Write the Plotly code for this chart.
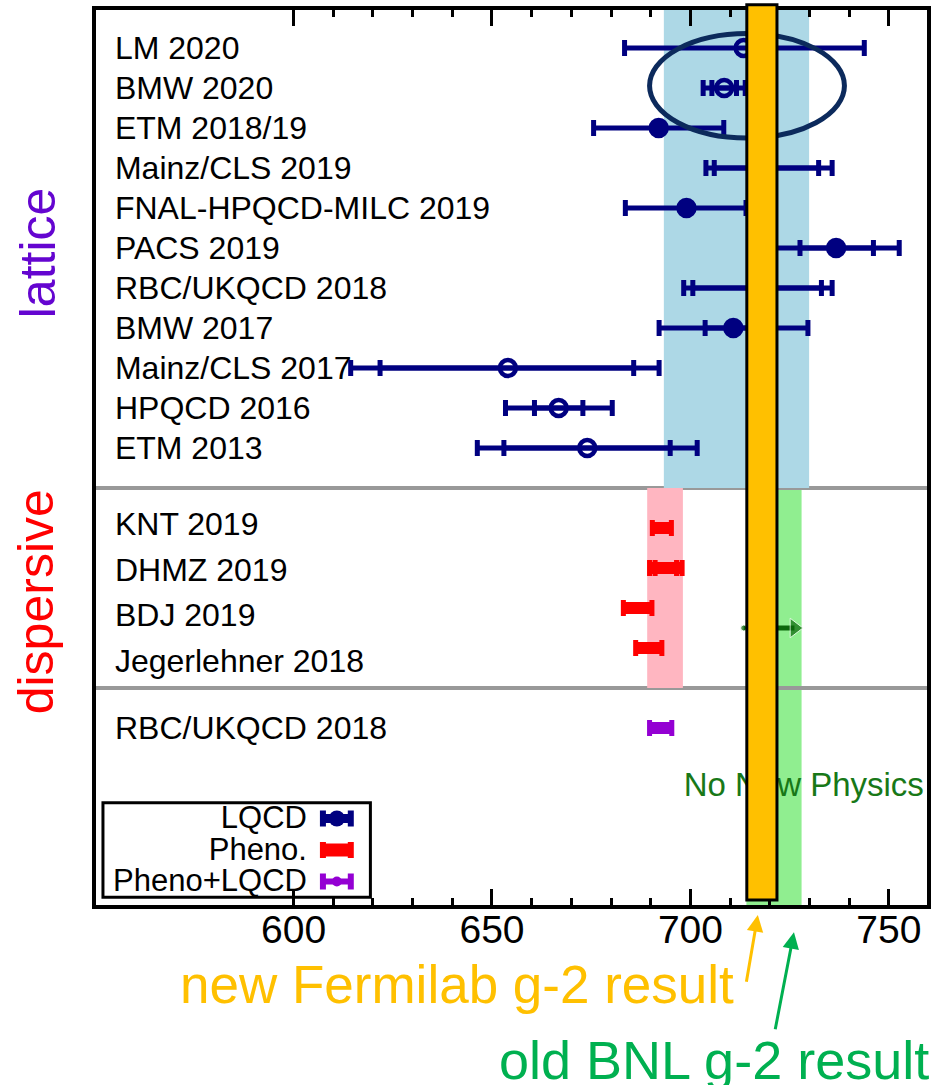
import plotly.graph_objects as go

FONT = "Liberation Sans, Arial, Helvetica, sans-serif"
NAVY = "#000080"
RED = "#FF0000"
PURPLE = "#9400D3"

# ---------------- data (HVP LO, units of 1e-10) ----------------
lat_names = ["LM 2020", "BMW 2020", "ETM 2018/19", "Mainz/CLS 2019",
             "FNAL-HPQCD-MILC 2019", "PACS 2019", "RBC/UKQCD 2018",
             "BMW 2017", "Mainz/CLS 2017", "HPQCD 2016", "ETM 2013"]
lat_value = [713.4, 708.5, 692.0, 719.6, 699.0, 736.7, 717.0, 710.8, 654.0, 666.8, 674.0]
lat_inner_minus = [None, 3.1, None, 13.6, None, 9.1, 16.4, 7.1, 32.2, 6.1, 21.0]
lat_inner_plus = [None, 3.1, None, 12.7, None, 9.4, 16.0, 7.5, 31.7, 6.1, 20.9]
lat_outer_minus = [30.0, 5.3, 16.4, 15.7, 15.4, 20.0, 18.7, 18.7, 39.6, 13.4, 27.7]
lat_outer_plus = [30.4, 5.3, 16.4, 16.1, 15.0, 15.9, 18.7, 18.8, 38.1, 13.5, 27.7]
lat_filled = [False, False, True, False, True, True, True, True, False, False, False]

disp_names = ["KNT 2019", "DHMZ 2019", "BDJ 2019", "Jegerlehner 2018"]
disp_value = [692.8, 693.8, 686.7, 689.5]
disp_err = [2.4, 4.1, 3.6, 3.3]
disp_inner = [None, 2.7, None, None]

mix_names = ["RBC/UKQCD 2018"]
mix_value = [692.5]
mix_err = [2.8]

lattice_avg, lattice_hw = 711.6, 18.3
pheno_avg, pheno_hw = 693.6, 4.5
bnl_value, bnl_err = 721.05, 6.95
fnal_value, fnal_err = 718.0, 3.8
bnl_arrow = [713.4, 726.2]

x_major = [600, 650, 700, 750]
x_minor = [610, 620, 630, 640, 660, 670, 680, 690, 710, 720, 730, 740]

legend_names = ["LQCD", "Pheno.", "Pheno+LQCD"]

# ---------------- row layout ----------------
n_lat = len(lat_names)
lat_rows = [i + 1 for i in range(n_lat)]
sep1 = n_lat + 1
disp_rows = [sep1 + 1 + i for i in range(len(disp_names))]
disp_label_rows = [sep1 + 0.9 + 1.14 * i for i in range(len(disp_names))]
sep2 = disp_rows[-1] + 1
mix_rows = [sep2 + 1 + i for i in range(len(mix_names))]
nonp_row = mix_rows[-1] + 1.5
arrow_row = (disp_rows[2] + disp_rows[3]) / 2
label_x = 555.0
label_shift = 0.075

fig = go.Figure()

# row labels
fig.add_trace(go.Scatter(
    x=[label_x] * (n_lat + len(disp_names) + len(mix_names)),
    y=[r + label_shift for r in lat_rows + disp_label_rows + mix_rows],
    mode="text", text=lat_names + disp_names + mix_names,
    textposition="middle right",
    textfont=dict(size=32, color="black", family=FONT),
    hoverinfo="skip", showlegend=False, cliponaxis=False))

# lattice: outer error bars
fig.add_trace(go.Scatter(
    x=lat_value, y=lat_rows, mode="markers",
    marker=dict(size=1, color="rgba(0,0,0,0)"),
    error_x=dict(type="data", symmetric=False, array=lat_outer_plus,
                 arrayminus=lat_outer_minus, color=NAVY, thickness=5, width=8),
    hoverinfo="skip", showlegend=False))
# lattice: inner error bars
idx = [i for i in range(n_lat) if lat_inner_plus[i] is not None]
fig.add_trace(go.Scatter(
    x=[lat_value[i] for i in idx], y=[lat_rows[i] for i in idx], mode="markers",
    marker=dict(size=1, color="rgba(0,0,0,0)"),
    error_x=dict(type="data", symmetric=False,
                 array=[lat_inner_plus[i] for i in idx],
                 arrayminus=[lat_inner_minus[i] for i in idx],
                 color=NAVY, thickness=5, width=8),
    hoverinfo="skip", showlegend=False))
# lattice markers
fig.add_trace(go.Scatter(
    x=lat_value, y=lat_rows, mode="markers",
    marker=dict(size=16, color=NAVY,
                symbol=["circle" if f else "circle-open" for f in lat_filled],
                line=dict(width=4.5, color=NAVY)),
    hoverinfo="skip", showlegend=False))


def thick_bar(xv, yv, err, color, body, cap=5, capw=8, axes=("x", "y")):
    fig.add_trace(go.Scatter(
        x=xv, y=yv, mode="markers", marker=dict(size=1, color="rgba(0,0,0,0)"),
        error_x=dict(type="data", array=err, color=color, thickness=body, width=0),
        xaxis=axes[0], yaxis=axes[1], hoverinfo="skip", showlegend=False))
    fig.add_trace(go.Scatter(
        x=xv, y=yv, mode="markers", marker=dict(size=1, color="rgba(0,0,0,0)"),
        error_x=dict(type="data", array=err, color=color, thickness=cap, width=capw),
        xaxis=axes[0], yaxis=axes[1], hoverinfo="skip", showlegend=False))


# dispersive
thick_bar(disp_value, disp_rows, disp_err, RED, 12)
di = [i for i in range(len(disp_names)) if disp_inner[i] is not None]
fig.add_trace(go.Scatter(
    x=[disp_value[i] for i in di], y=[disp_rows[i] for i in di], mode="markers",
    marker=dict(size=1, color="rgba(0,0,0,0)"),
    error_x=dict(type="data", array=[disp_inner[i] for i in di], color=RED,
                 thickness=5, width=8),
    hoverinfo="skip", showlegend=False))
# pheno + lattice
thick_bar(mix_value, mix_rows, mix_err, PURPLE, 12)

# small green arrow
fig.add_trace(go.Scatter(
    x=bnl_arrow, y=[arrow_row, arrow_row], mode="lines+markers",
    line=dict(color="#0b660b", width=5),
    marker=dict(symbol=["circle", "triangle-right"], size=[6, 17], color="#0b660b"),
    hoverinfo="skip", showlegend=False))

# "No New Physics"
fig.add_trace(go.Scatter(
    x=[bnl_value + 7.5], y=[nonp_row], mode="text", text=["No New Physics"],
    textposition="middle center",
    textfont=dict(size=33, color="#187818", family=FONT),
    hoverinfo="skip", showlegend=False, cliponaxis=False))

# ---------------- manual legend (sub-axes x2/y2) ----------------
fig.add_trace(go.Scatter(
    x=[-30] * 3, y=[0.07, 1.07, 2.07], mode="text", text=legend_names,
    textposition="middle left", textfont=dict(size=31, color="black", family=FONT),
    xaxis="x2", yaxis="y2", hoverinfo="skip", showlegend=False, cliponaxis=False))
leg_style = [(NAVY, 9, 16), (RED, 13, 0), (PURPLE, 5, 10)]
for i, (col, body, msize) in enumerate(leg_style):
    thick_bar([0], [i], [14], col, body, cap=6, capw=8, axes=("x2", "y2"))
    if msize:
        fig.add_trace(go.Scatter(
            x=[0], y=[i], mode="markers", marker=dict(size=msize, color=col),
            xaxis="x2", yaxis="y2", hoverinfo="skip", showlegend=False))

# ---------------- shapes ----------------
shapes = [
    dict(type="rect", xref="x", yref="y", x0=lattice_avg - lattice_hw,
         x1=lattice_avg + lattice_hw, y0=-1, y1=sep1,
         fillcolor="#ADD8E6", line=dict(width=0), layer="below"),
    dict(type="rect", xref="x", yref="y", x0=pheno_avg - pheno_hw,
         x1=pheno_avg + pheno_hw, y0=sep1, y1=sep2,
         fillcolor="#FFB6C1", line=dict(width=0), layer="below"),
    dict(type="rect", xref="x", yref="paper", x0=bnl_value - bnl_err,
         x1=bnl_value + bnl_err, y0=0, y1=1,
         fillcolor="#90EE90", line=dict(width=0), layer="below"),
    dict(type="line", xref="paper", yref="y", x0=0, x1=1, y0=sep1, y1=sep1,
         line=dict(color="#999999", width=4), layer="below"),
    dict(type="line", xref="paper", yref="y", x0=0, x1=1, y0=sep2, y1=sep2,
         line=dict(color="#999999", width=4), layer="below"),
    dict(type="rect", xref="x2 domain", yref="y2 domain", x0=0, x1=1, y0=0, y1=1,
         line=dict(color="black", width=3), fillcolor="rgba(0,0,0,0)", layer="above"),
    dict(type="circle", xref="x", yref="y", x0=689.7, x1=738.8, y0=0.64, y1=3.25,
         line=dict(color="#0c2a5c", width=5), layer="above"),
    dict(type="rect", xref="x", yref="paper", x0=fnal_value - fnal_err,
         x1=fnal_value + fnal_err, y0=0.0056, y1=1.0059,
         fillcolor="#FFC000", line=dict(color="black", width=3), layer="above"),
]

annotations = [
    dict(text="lattice", xref="paper", yref="paper", x=-0.0695, y=0.7285,
         xanchor="center", yanchor="middle",
         textangle=-90, showarrow=False, font=dict(size=50, color="#6405d0", family=FONT)),
    dict(text="dispersive", xref="paper", yref="paper", x=-0.0719, y=0.3385,
         xanchor="center", yanchor="middle",
         textangle=-90, showarrow=False, font=dict(size=50, color="#FF0000", family=FONT)),
    dict(text="new Fermilab g-2 result", xref="paper", yref="paper", x=0.7701, y=-0.0890,
         xanchor="right", yanchor="middle", showarrow=False,
         font=dict(size=53, color="#FFC000", family=FONT)),
    dict(text="old BNL g-2 result", xref="paper", yref="paper", x=1.0048, y=-0.1730,
         xanchor="right", yanchor="middle", showarrow=False,
         font=dict(size=54, color="#00B050", family=FONT)),
    dict(text="", xref="x", yref="paper", x=716.98, y=-0.0112, ax=-11.7, ay=68.3,
         axref="pixel", ayref="pixel", showarrow=True, arrowhead=2, arrowsize=1.1,
         arrowwidth=3, arrowcolor="#FFC000"),
    dict(text="", xref="x", yref="paper", x=726.08, y=-0.0305, ax=-19, ay=98.4,
         axref="pixel", ayref="pixel", showarrow=True, arrowhead=2, arrowsize=1.1,
         arrowwidth=3, arrowcolor="#00B050"),
]

fig.update_layout(
    width=935, height=1085,
    margin=dict(l=96, r=4, t=10, b=180),
    paper_bgcolor="white", plot_bgcolor="rgba(0,0,0,0)",
    showlegend=False, shapes=shapes, annotations=annotations,
    font=dict(family=FONT, color="black"),
    xaxis=dict(range=[550.23, 759.6], showgrid=False, zeroline=False,
               showline=True, linewidth=4, linecolor="black", mirror="ticks",
               ticks="inside", tickmode="array", tickvals=x_major, ticklen=16,
               tickwidth=3, tickcolor="black", ticklabelstandoff=-13,
               tickfont=dict(size=39, color="black", family=FONT),
               minor=dict(tickmode="array", tickvals=x_minor, ticks="inside",
                          ticklen=7, tickwidth=3, tickcolor="black")),
    yaxis=dict(range=[22.425, 0.05], showgrid=False, zeroline=False,
               showline=True, linewidth=4, linecolor="black", mirror=True,
               ticks="", showticklabels=False),
    xaxis2=dict(domain=[0.00838, 0.3302], range=[-235, 33.7], anchor="y2",
                visible=False, fixedrange=True),
    yaxis2=dict(domain=[0.0086, 0.1143], range=[2.5, -0.5], anchor="x2",
                visible=False, fixedrange=True),
)

fig.write_html("out.html")
